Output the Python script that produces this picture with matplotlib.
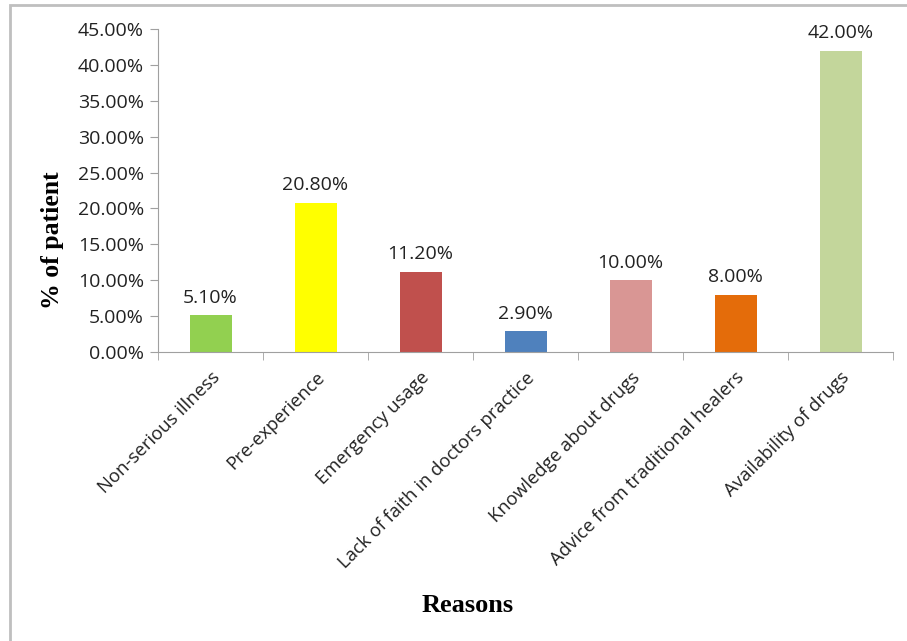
import matplotlib
matplotlib.use("Agg")
from matplotlib import pyplot as plt
from matplotlib.patches import Rectangle
import numpy as np

reasons = ["Non-serious illness", "Pre-experience", "Emergency usage",
           "Lack of faith in doctors practice", "Knowledge about drugs",
           "Advice from traditional healers", "Availability of drugs"]
values = [5.10, 20.80, 11.20, 2.90, 10.00, 8.00, 42.00]
colors = ["#92D050", "#FFFF00", "#C0504D", "#4F81BD", "#D99694", "#E46C0A", "#C3D69B"]
yticks = [0, 5, 10, 15, 20, 25, 30, 35, 40, 45]

plt.rcParams['font.family'] = ['Open Sans', 'DejaVu Sans']

fig = plt.figure(figsize=(9.07, 6.41), dpi=100)
fig.patches.append(Rectangle((10 / 907, -0.05), 1.0, 1 - 5 / 641 + 0.05,
                             transform=fig.transFigure, fill=False,
                             edgecolor="#BFBFBF", linewidth=2))
ax = fig.add_axes([158 / 907, 1 - 352 / 641, (893 - 158) / 907, (352 - 29) / 641])

x = np.arange(len(reasons))
ax.bar(x, values, width=0.4, color=colors)
for xi, v in zip(x, values):
    ax.text(xi, v + 1.2, "%.2f%%" % v, ha="center", va="bottom", fontsize=14, color="#222222")

ax.set_xlim(-0.5, len(reasons) - 0.5)
ax.set_ylim(0, 45)
ax.set_yticks(yticks)
ax.set_yticklabels(["%.2f%%" % t for t in yticks], fontsize=14, color="#222222")
ax.set_xticks(x)
ax.set_xticklabels(reasons, rotation=45, ha="right", rotation_mode="anchor", fontsize=13.3,
                   color="#222222")
ax.tick_params(axis="x", length=0, pad=12)
ax.set_xticks(np.arange(-0.5, len(reasons)), minor=True)
ax.tick_params(axis="x", which="minor", length=6, color="#A0A0A0")
ax.tick_params(axis="y", length=6, color="#A0A0A0", pad=4)

for s in ["top", "right"]:
    ax.spines[s].set_visible(False)
for s in ["left", "bottom"]:
    ax.spines[s].set_color("#A0A0A0")

fig.text(53 / 907, 1 - 240 / 641, "% of patient", family="Liberation Serif", fontweight="bold",
         fontsize=18.5, ha="center", va="center", rotation=90)
fig.text(468 / 907, 1 - 606 / 641, "Reasons", family="Liberation Serif", fontweight="bold",
         fontsize=19, ha="center", va="center")

fig.savefig("out.png", dpi=100)
